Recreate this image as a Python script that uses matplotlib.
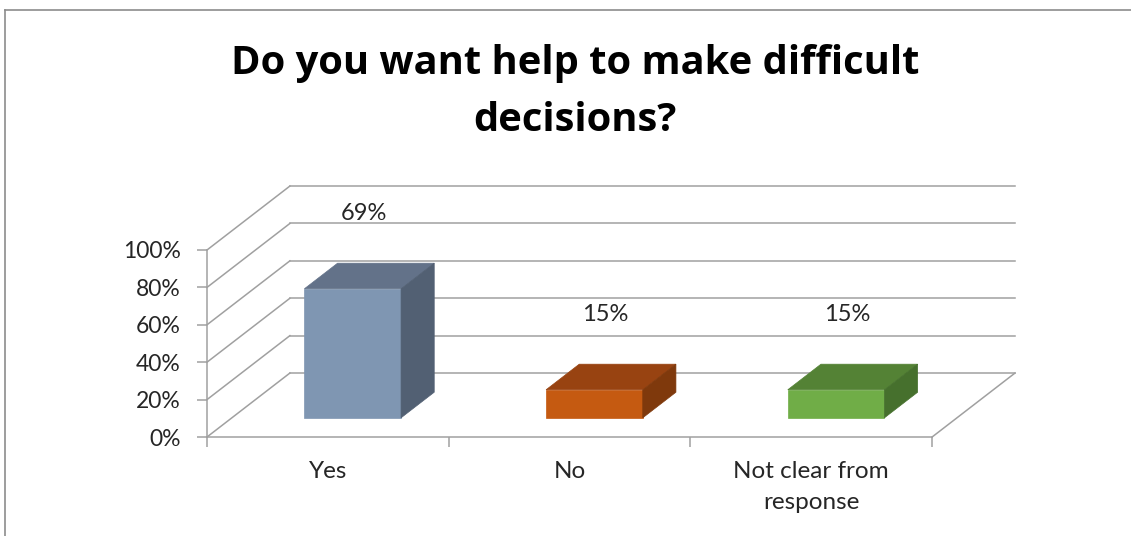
import numpy as np
import matplotlib
matplotlib.use('Agg')
import matplotlib.pyplot as plt
from matplotlib.patches import Polygon
from matplotlib.lines import Line2D

# --- DADOS ---
categories = ['Yes', 'No', 'Not clear from\nresponse']
shares = [0.69, 0.15, 0.15]
value_labels = ['69%', '15%', '15%']
y_ticks = [0.0, 0.2, 0.4, 0.6, 0.8, 1.0]
y_tick_labels = ['0%', '20%', '40%', '60%', '80%', '100%']
title = 'Do you want help to make difficult\ndecisions?'

# cores: (frente, topo, lateral)
bar_colors = [
    ('#7F96B2', '#637289', '#526073'),
    ('#C55A11', '#984311', '#7F390C'),
    ('#70AD47', '#548235', '#46702D'),
]

# --- GEOMETRIA DA PERSPECTIVA ---
W, H = 1131, 536
PX_PER_CAT = 241.7      # largura de uma categoria em pixels
PX_PER_UNIT = 187.0     # 100% em pixels
ORIGIN = (207, 437)     # canto frontal esquerdo do piso
DEPTH = (0.343, 0.342)  # deslocamento total da profundidade (dados)
BAR_W = 0.40
BAR_D0, BAR_D1 = 0.30, 0.70
GRID = '#A0A0A0'
FONT = 'Lato'
TITLE_FONT = 'Open Sans'


def proj(x, y, d):
    """Projeção oblíqua: (x, y, profundidade) -> coordenadas de dados 2D."""
    return x + d * DEPTH[0], y + d * DEPTH[1]


fig = plt.figure(figsize=(W / 100, H / 100), dpi=100)
ax = fig.add_axes([0, 0, 1, 1])
ax.set_xlim(-ORIGIN[0] / PX_PER_CAT, (W - ORIGIN[0]) / PX_PER_CAT)
ax.set_ylim((ORIGIN[1] - H) / PX_PER_UNIT, ORIGIN[1] / PX_PER_UNIT)
ax.patch.set_alpha(0)

n = len(categories)

# parede do fundo e parede lateral
for yt in y_ticks:
    bx0, by0 = proj(0, yt, 1)
    bx1, by1 = proj(n, yt, 1)
    ax.plot([bx0, bx1], [by0, by1], color=GRID, lw=1.1, zorder=1)
    ax.plot([0, bx0], [yt, by0], color=GRID, lw=1.1, zorder=1)
# borda direita do piso
rx, ry = proj(n, 0, 1)
ax.plot([n, rx], [0, ry], color=GRID, lw=1.1, zorder=1)

# barras 3D
for i, (v, cols) in enumerate(zip(shares, bar_colors)):
    x0 = i + 0.5 - BAR_W / 2
    x1 = i + 0.5 + BAR_W / 2
    front = [proj(x0, 0, BAR_D0), proj(x1, 0, BAR_D0), proj(x1, v, BAR_D0), proj(x0, v, BAR_D0)]
    top = [proj(x0, v, BAR_D0), proj(x1, v, BAR_D0), proj(x1, v, BAR_D1), proj(x0, v, BAR_D1)]
    side = [proj(x1, 0, BAR_D0), proj(x1, 0, BAR_D1), proj(x1, v, BAR_D1), proj(x1, v, BAR_D0)]
    for poly, c in zip((front, top, side), cols):
        ax.add_patch(Polygon(poly, closed=True, facecolor=c, edgecolor=c, lw=0.5, zorder=3))
    lx, ly = proj(i + 0.5, v, 0.43)
    ax.annotate(value_labels[i], (lx, ly), xytext=(0, 48), textcoords='offset points',
                ha='center', va='center', fontsize=17, family=FONT, color='#262626', zorder=4)

# eixos
for side_name in ('top', 'right'):
    ax.spines[side_name].set_visible(False)
ax.spines['left'].set_position(('data', 0))
ax.spines['bottom'].set_position(('data', 0))
ax.spines['left'].set_bounds(0, 1)
ax.spines['bottom'].set_bounds(0, n)
for s in ('left', 'bottom'):
    ax.spines[s].set_color(GRID)
    ax.spines[s].set_linewidth(1.1)
    ax.spines[s].set_zorder(2)

ax.set_yticks(y_ticks)
ax.set_yticklabels(y_tick_labels)
ax.set_xticks(np.arange(n + 1))
ax.set_xticklabels([])
ax.set_xticks(np.arange(n) + 0.5, minor=True)
ax.set_xticklabels(categories, minor=True)
ax.tick_params(axis='y', direction='out', length=7, width=1.1, color=GRID, pad=12,
               labelsize=16.5, labelcolor='#262626')
ax.tick_params(axis='x', which='major', direction='out', length=7, width=1.1, color=GRID)
ax.tick_params(axis='x', which='minor', length=0, pad=17, labelsize=17.5, labelcolor='#262626')
for lab in ax.get_yticklabels():
    lab.set_family(FONT)
for lab in ax.get_xticklabels(minor=True):
    lab.set_family(FONT)
    lab.set_linespacing(1.6)

# título
fig.text(575 / W, 1 - 44 / H, title, ha='center', va='top', fontsize=28.7,
         fontweight='bold', family=TITLE_FONT, color='black', linespacing=1.6)

# moldura do gráfico
fig.add_artist(Line2D([5 / W, 1], [1 - 9.5 / H] * 2, transform=fig.transFigure,
                      color='#8C8C8C', lw=1.2))
fig.add_artist(Line2D([5 / W] * 2, [0, 1 - 9.5 / H], transform=fig.transFigure,
                      color='#8C8C8C', lw=1.2))

fig.savefig('out.png', dpi=100, facecolor='white')
